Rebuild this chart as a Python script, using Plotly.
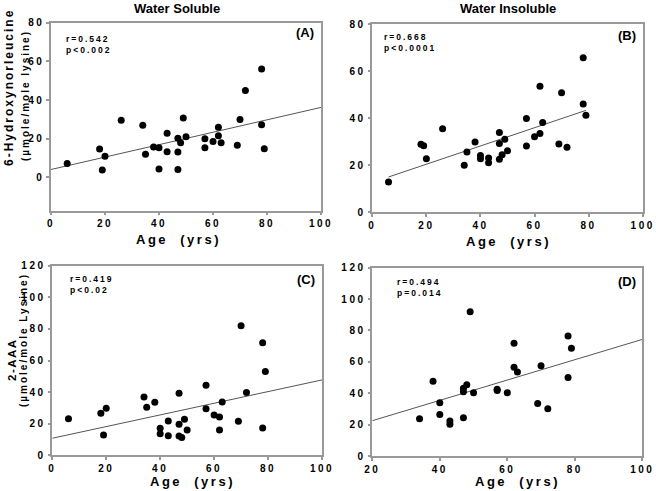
import plotly.graph_objects as go

# ---------------- data ----------------
a_age = [6, 18, 19, 20, 26, 34, 35, 38, 40, 40, 43, 43, 47, 47, 47, 48, 49, 50, 57, 57, 60, 62, 62, 63, 69, 70, 72, 78, 78, 79]
a_val = [7.2, 14.7, 3.8, 10.9, 29.5, 27, 12, 15.7, 15.3, 4.3, 22.9, 13.3, 20.2, 13.1, 4.1, 17.9, 30.7, 21, 20, 15.3, 18.6, 25.9, 21.6, 17.9, 16.6, 30, 45, 56, 27.2, 14.8]
a_fit_x = [0, 100]
a_fit_y = [4.1, 36.2]

b_age = [6, 18, 19, 20, 26, 34, 35, 38, 40, 40, 43, 43, 47, 47, 47, 48, 49, 50, 57, 57, 60, 62, 62, 63, 69, 70, 72, 78, 78, 79]
b_val = [12.9, 28.9, 28.3, 22.8, 35.5, 20, 25.6, 29.9, 24.1, 22.8, 23.1, 21.1, 33.9, 29.2, 22.5, 24.5, 31.0, 26.1, 39.8, 28.2, 32.1, 53.5, 33.5, 38.2, 29, 50.8, 27.6, 65.7, 46, 41.2]
b_fit_x = [6, 79]
b_fit_y = [15.0, 43.3]

c_age = [6, 18, 19, 20, 34, 35, 38, 40, 40, 43, 43, 47, 47, 47, 48, 49, 50, 57, 57, 60, 62, 62, 63, 69, 70, 72, 78, 78, 79]
c_val = [23.2, 26.6, 12.9, 29.7, 36.9, 30.4, 33.5, 17.1, 13.7, 21.7, 12.4, 39.2, 19.6, 12.2, 11.2, 22.8, 16, 44.3, 29.5, 25.5, 24.3, 16, 33.8, 21.5, 82, 39.7, 71.3, 17.3, 53]
c_fit_x = [0, 100]
c_fit_y = [10.8, 47.7]

d_age = [34, 38, 40, 40, 43, 43, 47, 47, 47, 48, 49, 50, 57, 57, 60, 62, 62, 63, 69, 70, 72, 78, 78, 79]
d_val = [23.8, 47.6, 34, 26.5, 22.3, 20.2, 43.1, 41, 24.4, 45.4, 91.9, 40.3, 42.5, 41.8, 40.3, 71.8, 56.5, 53.5, 33.5, 57.5, 30.1, 76.4, 50.1, 68.6]
d_fit_x = [20, 100]
d_fit_y = [22.5, 74.3]

x_ticks_abc = [0, 20, 40, 60, 80, 100]
x_ticks_d = [20, 40, 60, 80, 100]
y_ticks_ab = [0, 20, 40, 60, 80]
y_ticks_cd = [0, 20, 40, 60, 80, 100, 120]

panel_titles = ["Water Soluble", "Water Insoluble"]
panel_letters = ["(A)", "(B)", "(C)", "(D)"]
stats = [["r=0.542", "p<0.002"], ["r=0.668", "p<0.0001"], ["r=0.419", "p<0.02"], ["r=0.494", "p=0.014"]]
x_title = "Age  (yrs)"
y_titles_top = ["6-Hydroxynorleucine", "(µmole/mole lysine)"]
y_titles_bottom = ["2-AAA", "(µmole/mole Lysine)"]

# ---------------- figure ----------------
W, H = 656, 491
FONT = "Liberation Sans, Arial, sans-serif"
AXC = "#999999"


def ls(s, px):
    return '<span style="letter-spacing:%spx">%s</span>' % (px, s)


fig = go.Figure()

panels = [
    ("x", "y", a_age, a_val, a_fit_x, a_fit_y),
    ("x2", "y2", b_age, b_val, b_fit_x, b_fit_y),
    ("x3", "y3", c_age, c_val, c_fit_x, c_fit_y),
    ("x4", "y4", d_age, d_val, d_fit_x, d_fit_y),
]
for xa, ya, xs, ys, fx, fy in panels:
    fig.add_trace(go.Scatter(x=fx, y=fy, xaxis=xa, yaxis=ya, mode="lines",
                             line=dict(color="#555555", width=1), showlegend=False, hoverinfo="skip"))
    fig.add_trace(go.Scatter(x=xs, y=ys, xaxis=xa, yaxis=ya, mode="markers",
                             marker=dict(color="black", size=7), showlegend=False))

# pixel boxes: (left, right, top, bottom)
boxes = [
    (51, 321, 22.7, 210.7),
    (372.3, 642.7, 24, 212.3),
    (52.3, 322, 265.7, 455.3),
    (372.3, 642.3, 267.7, 456),
]
xranges = [[0, 100], [0, 100], [0, 100], [20, 100]]
yranges = [[-17.2, 80], [0, 80], [0, 120], [0, 120]]
xtv = [x_ticks_abc, x_ticks_abc, x_ticks_abc, x_ticks_d]
ytv = [y_ticks_ab, y_ticks_ab, y_ticks_cd, y_ticks_cd]

layout = {}
for i, (l, r, t, b) in enumerate(boxes):
    sfx = "" if i == 0 else str(i + 1)
    common = dict(
        ticks="outside", ticklen=3, tickcolor=AXC, tickwidth=1.5,
        showline=True, linecolor=AXC, linewidth=1.5, mirror=True,
        showgrid=False, zeroline=False, automargin=False,
        tickfont=dict(family=FONT, size=10, color="black", weight="bold"),
    )
    layout["xaxis" + sfx] = dict(
        domain=[l / W, r / W], range=xranges[i], anchor="y" + sfx,
        tickvals=xtv[i], ticktext=[ls(str(v), 2.5) for v in xtv[i]], **common)
    layout["yaxis" + sfx] = dict(
        domain=[1 - b / H, 1 - t / H], range=yranges[i], anchor="x" + sfx,
        tickvals=ytv[i], ticktext=[ls(str(v), 2.5) for v in ytv[i]], **common)

ann = []


def px_ann(text, x, y, size, xanchor="center", yanchor="middle", angle=0):
    ann.append(dict(text=text, x=x / W, y=1 - y / H, xref="paper", yref="paper",
                    xanchor=xanchor, yanchor=yanchor, showarrow=False, textangle=angle,
                    font=dict(family=FONT, size=size, color="black", weight="bold")))


# column titles
px_ann(panel_titles[0], 177, 8, 13)
px_ann(panel_titles[1], 508, 9, 13)

# panel letters
px_ann(panel_letters[0], 316, 33, 13, xanchor="right")
px_ann(panel_letters[1], 638, 35, 13, xanchor="right")
px_ann(panel_letters[2], 317, 279, 13, xanchor="right")
px_ann(panel_letters[3], 638, 281, 13, xanchor="right")

# stats
stat_pos = [(64, 39), (382, 37), (68, 279), (395, 282)]
for (sx, sy), st in zip(stat_pos, stats):
    px_ann(ls(st[0], 2), sx, sy, 8.5, xanchor="left")
    px_ann(ls(st[1], 2), sx, sy + 11, 8.5, xanchor="left")

# x titles
for (tx, ty) in [(178, 239), (508, 241), (192, 481), (517, 481)]:
    px_ann(ls(x_title, 2.5), tx, ty, 13)

# y titles
px_ann(ls(y_titles_top[0], 2), 9, 88, 12, angle=-90)
px_ann(ls(y_titles_top[1], 2), 25, 96, 10, angle=-90)
px_ann(ls(y_titles_bottom[0], 1.5), 12, 360, 11.5, angle=-90)
px_ann(ls(y_titles_bottom[1], 2), 23, 340, 10, angle=-90)

fig.update_layout(
    width=W, height=H, margin=dict(l=0, r=0, t=0, b=0),
    paper_bgcolor="white", plot_bgcolor="white",
    annotations=ann, **layout,
)

fig.write_html(
    "out.html",
    config={"displayModeBar": False},
    post_script="document.body.style.margin='0';document.body.style.overflow='hidden';",
)
